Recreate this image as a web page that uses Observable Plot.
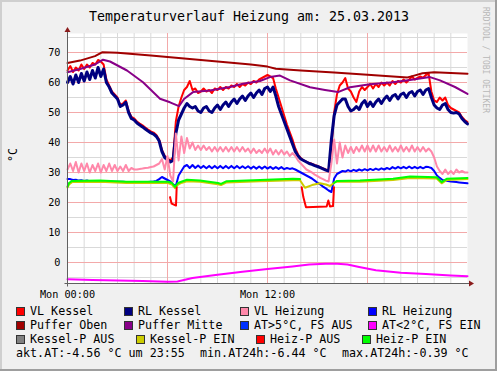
<!DOCTYPE html>
<html><head><meta charset="utf-8">
<script src="https://cdn.jsdelivr.net/npm/d3@7"></script>
<script src="https://cdn.jsdelivr.net/npm/@observablehq/plot@0.6"></script>
<style>
body{margin:0;background:#f0f0f0;}
#chart{width:497px;height:371px;}
</style></head><body><div id="chart"></div>
<script>
// ---------- DATA ----------
const titleText = "Temperaturverlauf Heizung am: 25.03.2013";
const unitText = "°C";
const watermarkText = "RRDTOOL / TOBI OETIKER";

// 10-minute samples, 00:00 .. 24:00 (145 values)
const vlKessel = [
  64, 65.5, 63.5, 65, 64, 66, 64.5, 66, 65, 66.5, 66, 67.5,
  67, 66, 61, 59, 57, 56, 55, 52.5, 53, 54, 50.5, 48.5,
  48, 47, 46.3, 45.7, 45, 44.3, 43.7, 43.3, 42.5, 41, 37.5, 35.5,
  34.7, 34, 35, 47, 52, 55, 57.5, 58.5, 60.5, 57.5, 58, 56.5,
  57, 58, 57, 57.5, 56.5, 58, 57.5, 58.5, 57.5, 58.5, 58, 59,
  58.5, 59.5, 58.5, 59.5, 59, 60, 59.5, 60.5, 60, 61, 61.5, 62,
  62.5, 62, 61.5, 58, 55, 52, 49, 46, 43.5, 41, 38, 36,
  34.8, 34, 33.6, 33.2, 32.9, 32.5, 32.2, 31.8, 31.4, 31, 30.7, 38,
  50, 56, 59, 60, 61.5, 58, 57, 55, 53.5, 57, 58.5, 57.5,
  58.5, 59.5, 58, 59.5, 58.5, 60, 59, 60, 59, 60.5, 59.5, 60.5,
  60, 61, 60, 61, 62, 61, 61.5, 62, 61.5, 62.5, 63, 57,
  54, 53.5, 55, 54, 55, 52.5, 51.5, 51, 50.5, 50, 48.5, 47.5,
  46.8
];
const rlKessel = [
  60, 62, 59.5, 62.5, 60, 63, 60.5, 63.5, 61, 64, 61.5, 65,
  62, 64.5, 60, 58.5, 56.5, 55.5, 54.5, 52, 52.5, 53.4, 50, 48,
  47.5, 46.5, 45.8, 45.2, 44.5, 43.8, 43.2, 42.8, 42, 40.5, 37, 35,
  34.2, 33.5, 34, 43, 47.5, 49.5, 51.5, 53, 52, 51.5, 52, 50.5,
  50, 51.5, 52, 50.5, 50, 51.5, 52.5, 51, 52.5, 53.5, 52, 53.5,
  54.5, 53, 54.5, 55.5, 54, 55.5, 56.5, 55, 56.5, 57.5, 56, 58,
  58.5, 57, 58.5, 55.5, 52, 49.5, 47, 44.5, 42, 39.5, 37, 35.5,
  34.5, 34, 33.5, 33, 32.7, 32.3, 32, 31.6, 31.2, 30.8, 30.5, 41,
  49, 52.5, 53.5, 54.5, 54.5, 52, 50.5, 51, 52, 51, 53, 54,
  52, 53.5, 52, 53.5, 54.5, 53, 54.5, 55.5, 54, 55.5, 56, 54.5,
  56, 56.5, 55, 56.5, 57, 55.5, 57, 57.5, 56, 57.5, 58, 55,
  52.5, 51.5, 51, 52.5, 53, 51, 50, 49.8, 50, 49.5, 48, 47,
  46.2
];
const vlHeizung = [
  31, 33, 30.5, 33.5, 30, 33, 30.5, 33, 30, 32.5, 30.5, 33,
  30, 32.5, 30.5, 33, 30.5, 32.5, 30.5, 32, 30.5, 32.5, 30.5, 31.5,
  31, 31, 31.2, 31.3, 31.5, 31.6, 31.8, 32, 32.5, 33, 34.5, 31,
  35.5, 29, 27, 43, 34, 42, 36.5, 41.5, 38, 40, 37.5, 39,
  37.5, 39, 37.5, 38.5, 37, 38.5, 37, 38.5, 37, 38.5, 37, 38.5,
  37, 38.5, 37, 38.5, 37, 38, 36.5, 38, 36.5, 37.5, 36.5, 38,
  36.5, 38, 36, 37.5, 36, 37.5, 36, 37, 35.5, 36.5, 35.5, 34,
  33, 32, 31, 30.5, 30, 29.3, 28.8, 28.2, 27.8, 27.3, 27, 33,
  41, 33, 40, 35, 39, 36.5, 38.5, 36.5, 38.5, 37, 39, 37,
  39, 37, 39, 37, 39, 37, 38.5, 37, 39, 37, 38.5, 37,
  39, 37, 38.5, 37, 39, 37, 38.5, 37, 38.5, 37, 38, 37,
  35, 32, 30.5, 29.5, 31, 29.5, 30.5, 29.5, 31, 30, 30.5, 30,
  30
];
const rlHeizung = [
  27.8, 27.8, 27.5, 27.6, 27.3, 27.4, 27.2, 27.3, 27.1, 27.2, 27, 27.1,
  27, 27, 27, 27, 27, 26.9, 26.9, 26.9, 26.9, 26.8, 26.8, 26.8,
  26.8, 26.8, 26.8, 26.8, 26.8, 26.8, 26.9, 27, 27.2, 27.8, 28.5, 28,
  27.5, 27, 26, 25.5, 29, 30.5, 32, 32.5, 31.5, 32.5, 31.5, 32.3,
  31.5, 32.2, 31.4, 32.2, 31.4, 32.2, 31.4, 32.2, 31.4, 32.2, 31.4, 32.2,
  31.4, 32.2, 31.4, 32.1, 31.4, 32.1, 31.3, 32, 31.3, 32, 31.3, 32,
  31.3, 31.9, 31.2, 31.8, 31.2, 31.8, 31.1, 31.5, 31.2, 31.4, 31, 30.5,
  30, 29.5, 29, 28.5, 28, 27.3, 26.6, 26, 25.3, 24.7, 24, 23.5,
  28, 29.5, 30, 30.5, 30.3, 30.8, 30.4, 30.9, 30.5, 31, 30.6, 31.1,
  30.7, 31.2, 30.8, 31.3, 30.9, 31.4, 31, 31.5, 31.1, 31.8, 31.3, 31.9,
  31.4, 31.9, 31.4, 32, 31.4, 31.9, 31.4, 31.9, 31.4, 31.9, 31.8, 31.5,
  30.5, 29, 28.2, 27.5, 27.3, 27.2, 27, 26.9, 26.8, 26.7, 26.6, 26.5,
  26.4
];

const pufferObenHours  = [0, 0.75, 1.65, 2.1, 3, 5, 7, 9, 11, 12, 12.5, 14, 16, 18, 20.4, 20.8, 21.3, 22, 24];
const pufferObenValues = [66.5, 67.3, 68.8, 70.1, 69.9, 69, 68, 67, 66, 65.3, 64.6, 64, 63.3, 62.6, 61.7, 62.3, 63.1, 63.4, 62.9];

const pufferMitteHours  = [0, 0.75, 1.65, 2.13, 2.55, 3.57, 4.53, 5.55, 6.15, 6.69, 6.99, 7.53, 8.55, 9.75, 10.53, 11.55, 12.15, 12.75, 13.35, 14.55, 15.45, 16.23, 16.95, 18.15, 19.53, 20.55, 21.75, 22.35, 23.25, 24];
const pufferMitteValues = [63.4, 64.5, 66, 67.6, 67, 64, 60.1, 54.6, 53.4, 52.1, 54.5, 56.8, 57.3, 58.5, 59.6, 60.5, 61.8, 62.3, 60.7, 58.4, 57.5, 56.8, 58.4, 59.4, 60.1, 60.8, 61.8, 60.7, 58.5, 56.2];

const atHours  = [0, 1.5, 3, 4.5, 6, 6.6, 7.5, 9, 10.5, 12, 13.5, 14.5, 15.5, 16.2, 16.8, 17.5, 18.5, 20, 21.5, 23, 24];
const atValues = [-5.6, -5.8, -6.0, -6.2, -6.4, -6.3, -5.2, -4.1, -3.1, -2.2, -1.3, -0.7, -0.45, -0.4, -0.7, -1.5, -2.6, -3.4, -3.8, -4.3, -4.6];

const kesselPEinHours  = [0, 0.09, 0.27, 1.95, 3.55, 6.03, 6.27, 6.45, 6.63, 6.87, 7.17, 7.95, 9.03, 9.21, 9.55, 11.55, 13.53, 13.95, 14.25, 14.67, 15.15, 15.51, 15.75, 16.05, 16.17, 17.55, 19.53, 20.55, 22.15, 22.45, 22.75, 24];
const kesselPEinValues = [25, 26, 26.8, 26.9, 26.5, 26.5, 26, 24.8, 26, 26.6, 27.1, 26.9, 26.1, 25.8, 26.7, 27.1, 27.4, 27.4, 24.9, 25.8, 26.4, 26, 25.5, 26.8, 26.9, 26.9, 27.5, 28.2, 28, 26.4, 27.5, 27.8];

const heizPAusHours  = [6.15, 6.25, 6.51, 6.55, 6.56, 14.05, 14.15, 14.31, 15.55, 15.65, 15.75, 15.93, 15.99];
const heizPAusValues = [21.8, 19.6, 19, 25.1, null, 25.1, 21.8, 18.4, 18.7, 20.7, 18.7, 18.8, 25.1];

const heizPEinHours  = [0, 0.09, 0.27, 1.95, 3.55, 6.03, 6.27, 6.45, 6.63, 6.87, 7.17, 7.95, 9.03, 9.21, 9.55, 11.55, 13.53, 13.95, 14.0, 15.99, 16.17, 17.55, 19.53, 20.55, 22.15, 22.45, 22.75, 24];
const heizPEinValues = [25.3, 26.5, 27.2, 27.3, 26.9, 26.9, 26.5, 25.2, 26.5, 27, 27.6, 27.3, 26.5, 26.2, 27.1, 27.5, 27.9, 27.8, null, 26.5, 27.2, 27.3, 27.9, 28.7, 28.4, 26.8, 27.9, 28.2];

const yTickValues = [0, 10, 20, 30, 40, 50, 60, 70];
const xTickHours = [0, 12];
const xTickLabels = ["Mon 00:00", "Mon 12:00"];

const legendLabels = ["VL Kessel", "RL Kessel", "VL Heizung", "RL Heizung",
  "Puffer Oben", "Puffer Mitte", "AT>5°C, FS AUS", "AT<2°C, FS EIN",
  "Kessel-P AUS", "Kessel-P EIN", "Heiz-P AUS", "Heiz-P EIN"];
const legendColors = ["#ff0000", "#000080", "#ff88aa", "#0000ff",
  "#a00000", "#880088", "#0030ff", "#ff00ff",
  "#808080", "#cccc00", "#ff0000", "#00ff00"];
const statsTexts = ["akt.AT:-4.56 °C um 23:55", "min.AT24h:-6.44 °C", "max.AT24h:-0.39 °C"];

// ---------- BUILD ----------
const stepHours = vlKessel.map((_, i) => i / 6);
const rows = (hours, values) => values.map((v, i) => ({h: hours[i], v}));

const yMin = -7, yMax = -7 + 250 / 3;
const font = "'DejaVu Sans Mono', monospace";

const line = (hours, values, color, w) =>
  Plot.line(rows(hours, values), {x: "h", y: "v", stroke: color, strokeWidth: w, strokeLinejoin: "round"});

const xMinor = d3.range(1, 24).filter(h => h % 6 !== 0);
const xMajor = [6, 12, 18];
const yMinor = d3.range(-5, 80, 10);
const yMajor = yTickValues;

const chart = Plot.plot({
  width: 497, height: 371,
  marginLeft: 67, marginRight: 30, marginTop: 33, marginBottom: 88,
  x: {domain: [0, 24], axis: null},
  y: {domain: [yMin, yMax], axis: null},
  style: {background: "#f0f0f0", fontFamily: font, overflow: "visible"},
  marks: [
    Plot.frame({fill: "#ffffff", stroke: "none"}),
    Plot.ruleX(xMinor, {stroke: "#d9d9d9"}),
    Plot.ruleY(yMinor, {stroke: "#d9d9d9"}),
    Plot.ruleX(xMajor, {stroke: "#f3a9a9"}),
    Plot.ruleY(yMajor, {stroke: "#f3a9a9"}),
    line(stepHours, vlKessel, legendColors[0], 2),
    line(stepHours, rlKessel, legendColors[1], 3),
    line(stepHours, vlHeizung, legendColors[2], 2),
    line(stepHours, rlHeizung, legendColors[3], 2),
    line(pufferObenHours, pufferObenValues, legendColors[4], 2),
    line(pufferMitteHours, pufferMitteValues, legendColors[5], 2),
    line(atHours, atValues, legendColors[7], 2),
    line(kesselPEinHours, kesselPEinValues, legendColors[9], 2),
    line(heizPAusHours, heizPAusValues, legendColors[10], 2),
    line(heizPEinHours, heizPEinValues, legendColors[11], 2),
    Plot.text(yTickValues, {x: 0, y: d => d, text: d => String(d), textAnchor: "end", dx: -7, fontSize: 10.2, fill: "#000"}),
    Plot.text(xTickHours, {x: d => d, y: yMin, text: (d, i) => xTickLabels[i], lineAnchor: "top", dy: 7.3, fontSize: 10.2, fill: "#000"})
  ]
});
document.getElementById("chart").append(chart);

const svg = d3.select(chart);
const sx = chart.scale("x"), sy = chart.scale("y");
const x0 = Math.round(sx.apply(0)) + 0.5;
const x24 = sx.apply(24);
const yb = Math.round(sy.apply(yMin)) + 0.5;
const yt = sy.apply(yMax);

// axes with arrows
const axisG = svg.append("g");
axisG.append("line").attr("x1", x0 - 3).attr("x2", x24 + 4).attr("y1", yb).attr("y2", yb).attr("stroke", "#606060");
axisG.append("line").attr("x1", x0).attr("x2", x0).attr("y1", yb + 3).attr("y2", yt - 4).attr("stroke", "#606060");
axisG.append("path").attr("d", `M${x24 + 2},${yb - 3}L${x24 + 7},${yb}L${x24 + 2},${yb + 3}Z`).attr("fill", "#8b1c1c");
axisG.append("path").attr("d", `M${x0 - 3},${yt - 1}L${x0},${yt - 6}L${x0 + 3},${yt - 1}Z`).attr("fill", "#8b1c1c");

// frame shading
svg.append("rect").attr("x", 0).attr("y", 0).attr("width", 497).attr("height", 2).attr("fill", "#cfcfcf");
svg.append("rect").attr("x", 0).attr("y", 0).attr("width", 2).attr("height", 371).attr("fill", "#cfcfcf");
svg.append("rect").attr("x", 495).attr("y", 0).attr("width", 2).attr("height", 371).attr("fill", "#9e9e9e");
svg.append("rect").attr("x", 0).attr("y", 369).attr("width", 497).attr("height", 2).attr("fill", "#9e9e9e");

// title
svg.append("text").attr("x", 249).attr("y", 21).attr("text-anchor", "middle")
  .attr("font-family", font).attr("font-size", 13.3).attr("fill", "#000").text(titleText);
// unit
svg.append("text").attr("transform", "translate(17,155) rotate(-90)").attr("text-anchor", "middle")
  .attr("font-family", font).attr("font-size", 11.7).attr("fill", "#000").text(unitText);
// watermark
svg.append("text").attr("transform", "translate(483,7) rotate(90)").attr("text-anchor", "start")
  .attr("font-family", font).attr("font-size", 8).attr("fill", "#b8b8b8").text(watermarkText);

// legend
const swatchX = [16, 124, 240, 368, 16, 124, 240, 368, 16, 136, 256, 362];
const rowBase = [315, 329, 343];
const lg = svg.append("g").attr("font-family", font).attr("font-size", 11.7).attr("fill", "#000").attr("text-anchor", "start");
legendLabels.forEach((lab, i) => {
  const r = Math.floor(i / 4);
  lg.append("rect").attr("x", swatchX[i] + 0.5).attr("y", rowBase[r] - 8 + 0.5)
    .attr("width", 8).attr("height", 8).attr("fill", legendColors[i]).attr("stroke", "#333");
  lg.append("text").attr("x", swatchX[i] + 14).attr("y", rowBase[r]).attr("text-anchor", "start").text(lab);
});
const statX = [16, 200, 342];
statsTexts.forEach((t, i) => lg.append("text").attr("x", statX[i]).attr("y", 357).attr("text-anchor", "start").text(t));
</script></body></html>
